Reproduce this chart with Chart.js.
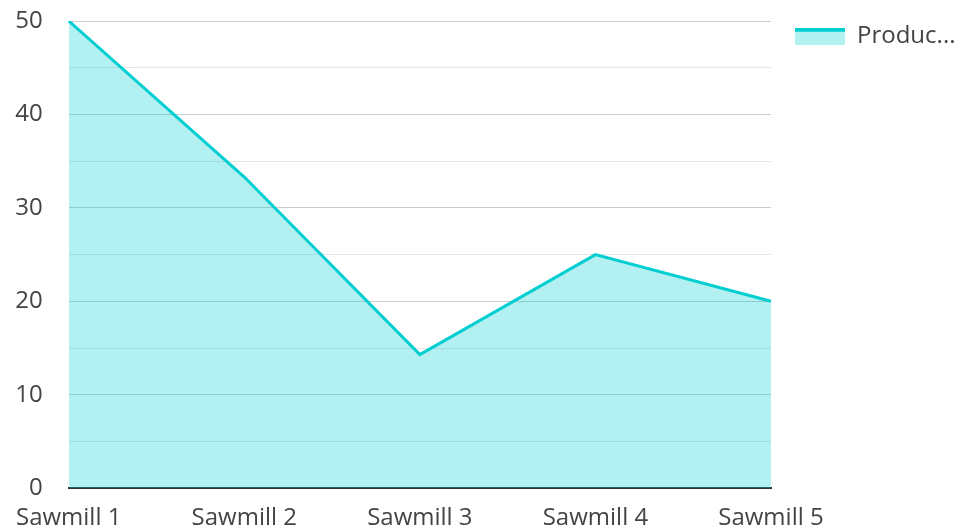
<!DOCTYPE html>
<html>
<head>
<meta charset="utf-8">
<script src="https://cdn.jsdelivr.net/npm/chart.js@4/dist/chart.umd.min.js"></script>
<style>
  html, body { margin: 0; padding: 0; background: #fff; }
  #wrap { width: 957px; height: 529px; }
</style>
</head>
<body>
<div id="wrap"><canvas id="chart"></canvas></div>
<script>
// chart data
const categories = ['Sawmill 1', 'Sawmill 2', 'Sawmill 3', 'Sawmill 4', 'Sawmill 5'];
const production = [50, 33.3, 14.3, 25, 20];
const seriesName = 'Production';
const yTicks = [0, 10, 20, 30, 40, 50];

const LINE = '#00ced1';
const FILL = 'rgba(0,206,209,0.3)';

// legend swatch: thick line on top, filled area below (left part of the image is blank spacing)
const swatch = document.createElement('canvas');
swatch.width = 72; swatch.height = 17;
(function() {
  const c = swatch.getContext('2d');
  c.fillStyle = FILL;
  c.fillRect(22, 2, 50, 15);
  c.fillStyle = LINE;
  c.fillRect(22, 0, 50, 4);
})();

Chart.defaults.font.family = '"Open Sans", sans-serif';
Chart.defaults.font.size = 24;
Chart.defaults.color = '#444';

new Chart(document.getElementById('chart'), {
  type: 'line',
  data: {
    labels: categories,
    datasets: [{
      label: seriesName,
      data: production,
      borderColor: LINE,
      backgroundColor: FILL,
      borderWidth: 3,
      fill: 'origin',
      tension: 0,
      pointRadius: 0
    }]
  },
  options: {
    responsive: true,
    maintainAspectRatio: false,
    animation: false,
    layout: { padding: { top: 21, right: 0, left: 0, bottom: -20 } },
    plugins: {
      tooltip: { enabled: false },
      legend: {
        position: 'right',
        align: 'start',
        maxWidth: 186,
        title: { display: true, text: ' ', font: { size: 1 }, padding: 0 },
        labels: {
          usePointStyle: true,
          pointStyle: swatch,
          pointStyleWidth: 72,
          boxHeight: 17,
          padding: 2,
          generateLabels: chart => {
            const items = Chart.defaults.plugins.legend.labels.generateLabels(chart);
            items.forEach(it => {
              it.pointStyle = swatch;
              if (it.text.length > 6) it.text = it.text.slice(0, 6) + '...';
            });
            return items;
          }
        }
      }
    },
    scales: {
      x: {
        offset: false,
        grid: { display: false, drawTicks: false },
        border: { display: true, color: '#333', width: 2 },
        ticks: { padding: 16, maxRotation: 0, autoSkip: false }
      },
      y: {
        min: 0,
        max: 50,
        afterFit: s => { s.width = 68; },
        grid: {
          drawTicks: true,
          tickLength: 26,
          tickColor: 'rgba(0,0,0,0)',
          color: ctx => (ctx.tick && ctx.tick.value % 10 === 0) ? '#cccccc' : '#e6e6e6',
          lineWidth: 1
        },
        border: { display: false },
        ticks: {
          stepSize: 5,
          padding: 0,
          callback: v => yTicks.includes(v) ? v : ''
        }
      }
    }
  }
});
</script>
</body>
</html>
